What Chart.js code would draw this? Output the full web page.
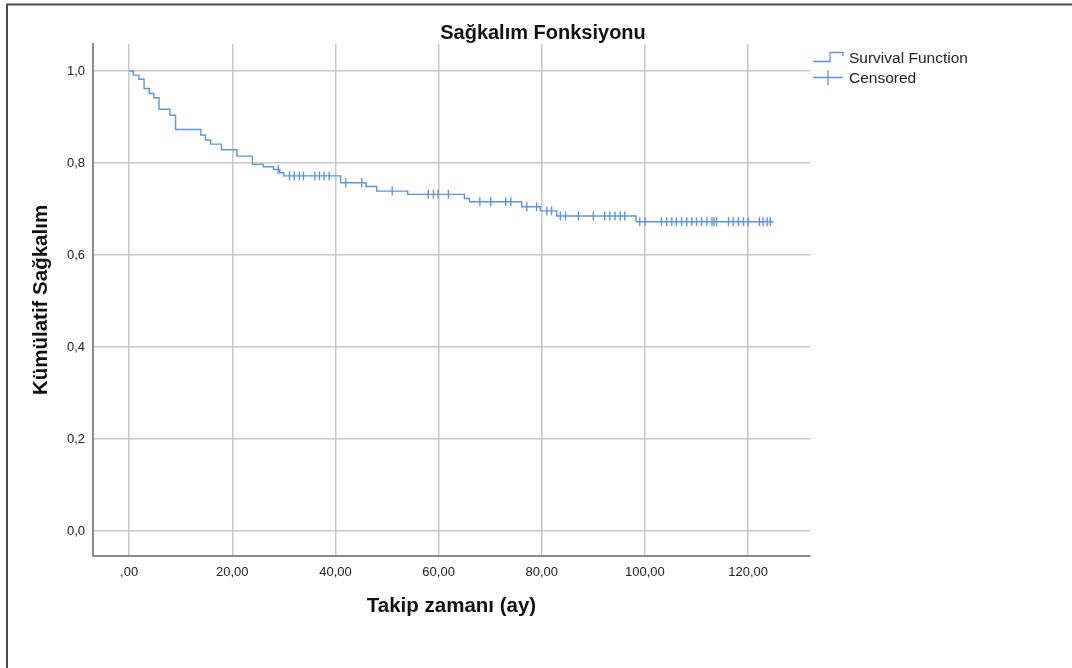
<!DOCTYPE html>
<html><head><meta charset="utf-8">
<script src="https://cdn.jsdelivr.net/npm/chart.js@4.4.1/dist/chart.umd.min.js"></script>
<style>html,body{margin:0;padding:0;background:#fff;overflow:hidden}#wrap{position:relative;width:1072px;height:668px}</style>
</head><body><div id="wrap"><canvas id="c" width="1072" height="668"></canvas></div>
<script>
const eventTimes = [0, 0.8, 1.9, 2.9, 3.9, 4.8, 5.8, 7.9, 9.0, 13.9, 14.8, 15.8, 17.9, 20.9, 23.9, 26.0, 28.0, 29.2, 30.0, 41.0, 45.9, 48.0, 54.0, 65.0, 66.0, 76.1, 79.7, 82.9, 98.3, 124.9];
const survival = [1.0, 0.991, 0.982, 0.962, 0.951, 0.942, 0.917, 0.904, 0.873, 0.861, 0.850, 0.841, 0.829, 0.815, 0.797, 0.792, 0.786, 0.779, 0.772, 0.757, 0.749, 0.739, 0.732, 0.723, 0.716, 0.705, 0.696, 0.685, 0.6725, 0.6725];
const censorTimes = [28.9, 31.1, 32.0, 33.0, 33.8, 36.0, 36.9, 37.8, 38.8, 42.0, 45.1, 51.0, 58.0, 59.0, 59.9, 61.9, 68.0, 70.1, 73.0, 74.0, 77.1, 79.0, 81.0, 81.9, 83.6, 84.6, 87.1, 90.0, 92.2, 93.2, 94.2, 95.2, 96.1, 99.0, 100.0, 103.2, 104.2, 105.2, 106.1, 107.1, 108.1, 109.1, 110.0, 111.0, 112.0, 113.0, 113.4, 113.9, 116.2, 117.1, 118.1, 119.1, 120.0, 122.2, 122.9, 123.7, 124.3];
const xTickValues = [0, 20, 40, 60, 80, 100, 120];
const xTickLabels = [',00', '20,00', '40,00', '60,00', '80,00', '100,00', '120,00'];
const yTickValues = [0, 0.2, 0.4, 0.6, 0.8, 1.0];
const yTickLabels = ['0,0', '0,2', '0,4', '0,6', '0,8', '1,0'];
const titleText = 'Sağkalım Fonksiyonu';
const xTitle = 'Takip zamanı (ay)';
const yTitle = 'Kümülatif Sağkalım';
const legendLabels = ['Survival Function', 'Censored'];

const FONT = "'Liberation Sans', Arial, sans-serif";
const BLUE = '#5a95e4';

function survAt(t) {
  let s = survival[0];
  for (let i = 0; i < eventTimes.length; i++) { if (eventTimes[i] <= t) s = survival[i]; }
  return s;
}

const decor = {
  id: 'decor',
  beforeDraw(chart) {
    const ctx = chart.ctx;
    ctx.save();
    ctx.fillStyle = '#fff';
    ctx.fillRect(0, 0, chart.width, chart.height);
    ctx.restore();
  },
  afterDraw(chart) {
    const ctx = chart.ctx;
    const a = chart.chartArea;
    ctx.save();
    // frame
    ctx.strokeStyle = '#4a4a4a';
    ctx.lineWidth = 2;
    ctx.beginPath();
    ctx.moveTo(7, chart.height);
    ctx.lineTo(7, 4.5);
    ctx.lineTo(chart.width, 4.5);
    ctx.stroke();
    // title
    ctx.fillStyle = '#111';
    ctx.font = 'bold 20px ' + FONT;
    ctx.textAlign = 'center';
    ctx.textBaseline = 'alphabetic';
    ctx.fillText(titleText, 543, 39);
    // legend
    const lx = a.right + 3;
    ctx.strokeStyle = BLUE;
    ctx.lineWidth = 1.3;
    ctx.beginPath();
    ctx.moveTo(lx, 61.5);
    ctx.lineTo(lx + 17, 61.5);
    ctx.lineTo(lx + 17, 52.5);
    ctx.lineTo(lx + 30, 52.5);
    ctx.lineTo(lx + 30, 56);
    ctx.stroke();
    ctx.beginPath();
    ctx.moveTo(lx, 77.5);
    ctx.lineTo(lx + 30, 77.5);
    ctx.moveTo(lx + 15, 70.5);
    ctx.lineTo(lx + 15, 85);
    ctx.stroke();
    ctx.fillStyle = '#222';
    ctx.font = '15.5px ' + FONT;
    ctx.textAlign = 'left';
    ctx.textBaseline = 'middle';
    ctx.fillText(legendLabels[0], lx + 36, 58.5);
    ctx.fillText(legendLabels[1], lx + 36, 78.5);
    ctx.restore();
  }
};

new Chart(document.getElementById('c'), {
  type: 'line',
  data: {
    datasets: [
      {
        label: legendLabels[0],
        data: eventTimes.map((t, i) => ({ x: t, y: survival[i] })),
        stepped: 'before',
        borderColor: BLUE,
        borderWidth: 1.4,
        pointRadius: 0,
        fill: false
      },
      {
        label: legendLabels[1],
        data: censorTimes.map(t => ({ x: t, y: survAt(t) })),
        showLine: false,
        pointStyle: 'line',
        rotation: 90,
        pointRadius: 4.5,
        pointBorderColor: BLUE,
        pointBorderWidth: 1.4,
        borderColor: BLUE
      }
    ]
  },
  options: {
    responsive: false,
    devicePixelRatio: 1,
    animation: false,
    layout: { padding: { top: 44, right: 262, bottom: 0, left: 0 } },
    plugins: { legend: { display: false }, tooltip: { enabled: false }, title: { display: false } },
    scales: {
      x: {
        type: 'linear',
        min: -7,
        max: 132,
        afterBuildTicks: s => { s.ticks = xTickValues.map(v => ({ value: v })); },
        afterFit: s => { s.height = 112; },
        ticks: {
          callback: (v, i) => xTickLabels[i],
          font: { family: FONT, size: 13 },
          color: '#222',
          padding: 9,
          maxRotation: 0,
          autoSkip: false
        },
        grid: { color: '#c8c8c8', lineWidth: 1.5, drawTicks: false },
        border: { color: '#8a8a8a', width: 2 },
        title: { display: true, text: xTitle, font: { family: FONT, size: 20.5, weight: 'bold' }, color: '#111', padding: { top: 0, bottom: 49 } }
      },
      y: {
        type: 'linear',
        min: -0.054,
        max: 1.0587,
        afterBuildTicks: s => { s.ticks = yTickValues.map(v => ({ value: v })); },
        afterFit: s => { s.width = 93; },
        ticks: {
          callback: (v, i) => yTickLabels[i],
          font: { family: FONT, size: 13 },
          color: '#222',
          padding: 8,
          autoSkip: false
        },
        grid: { color: '#c8c8c8', lineWidth: 1.5, drawTicks: false },
        border: { color: '#8a8a8a', width: 2 },
        title: { display: true, text: yTitle, font: { family: FONT, size: 20.5, weight: 'bold' }, color: '#111', padding: { top: 29, bottom: 0 } }
      }
    }
  },
  plugins: [decor]
});
</script></body></html>
